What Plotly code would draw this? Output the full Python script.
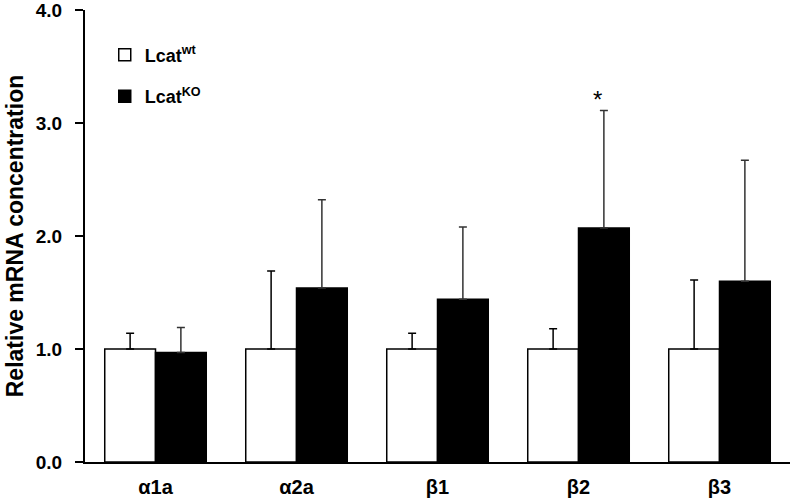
import plotly.graph_objects as go

categories = ["α1a", "α2a", "β1", "β2", "β3"]
wt_values = [1.00, 1.00, 1.00, 1.00, 1.00]
wt_errors = [0.14, 0.69, 0.14, 0.18, 0.61]
ko_values = [0.97, 1.54, 1.44, 2.07, 1.60]
ko_errors = [0.22, 0.78, 0.64, 1.04, 1.07]
y_ticks = [0.0, 1.0, 2.0, 3.0, 4.0]
y_tick_labels = ["0.0", "1.0", "2.0", "3.0", "4.0"]

font_family = "Liberation Sans, Arial, sans-serif"

fig = go.Figure()
fig.add_trace(go.Bar(
    x=categories, y=wt_values, name="Lcat<sup>wt</sup>", legendgroup="wt",
    marker=dict(color="white", line=dict(color="black", width=1.5)),
    error_y=dict(type="data", array=wt_errors, arrayminus=[0]*len(wt_errors),
                 symmetric=False, color="black", thickness=1.5, width=4),
))
fig.add_trace(go.Bar(
    x=categories, y=ko_values, name="Lcat<sup>KO</sup>", legendgroup="ko",
    marker=dict(color="black", line=dict(color="black", width=1.5)),
    error_y=dict(type="data", array=ko_errors, arrayminus=[0]*len(ko_errors),
                 symmetric=False, color="#333333", thickness=1.5, width=4),
))

fig.add_annotation(x="β2", y=ko_values[3] + ko_errors[3], xref="x", yref="y",
                   text="*", showarrow=False, xshift=19, yshift=11,
                   font=dict(size=24, color="black", family=font_family))

fig.update_layout(
    width=792, height=501,
    paper_bgcolor="white", plot_bgcolor="white",
    margin=dict(l=85, r=2, t=10, b=39),
    barmode="group", bargap=0.28, bargroupgap=0,
    font=dict(family=font_family, color="black"),
    showlegend=True,
    legend=dict(x=0.028, y=0.941, xanchor="left", yanchor="top",
                font=dict(size=18, family=font_family, weight="bold"),
                tracegroupgap=15, traceorder="grouped",
                bgcolor="rgba(0,0,0,0)", itemwidth=30),
)
fig.update_xaxes(
    range=[-0.5, 4.5], showline=True, linecolor="black", linewidth=2,
    ticks="outside", ticklen=6, tickcolor="rgba(0,0,0,0)",
    showgrid=False, automargin=False,
    tickfont=dict(size=20, family=font_family, weight="bold"),
)
fig.update_yaxes(
    range=[0, 4], tickvals=y_ticks, ticktext=y_tick_labels,
    showline=True, linecolor="black", linewidth=2, ticks="outside",
    ticklen=8, tickwidth=2, tickcolor="black", showgrid=False, zeroline=False,
    automargin=False, ticklabelstandoff=9, ticklabeloverflow="allow",
    tickfont=dict(size=19, family=font_family, weight="bold"),
    title=dict(text="Relative mRNA concentration",
               font=dict(size=23, family=font_family, weight="bold"), standoff=6),
)

fig.write_html("out.html", config={"displayModeBar": False},
               post_script="document.body.style.margin='0';")
